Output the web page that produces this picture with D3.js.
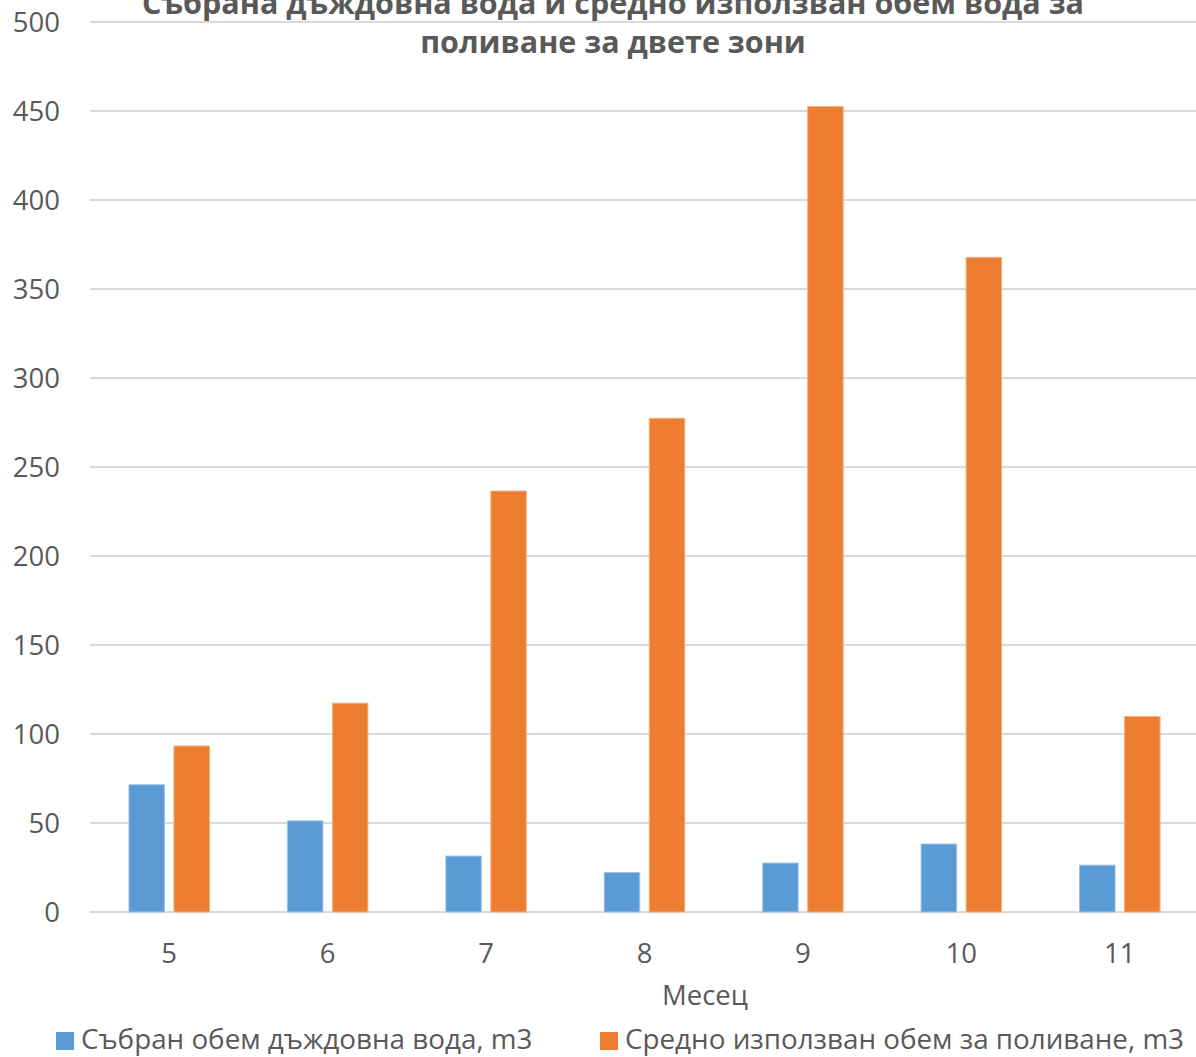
<!DOCTYPE html>
<html>
<head>
<meta charset="utf-8">
<script src="https://cdn.jsdelivr.net/npm/d3@7"></script>
<style>
  html, body { margin: 0; padding: 0; background: #fff; }
  svg { display: block; }
  text { font-family: "Open Sans", "Noto Sans", sans-serif; fill: #595959; }
</style>
</head>
<body>
<svg id="chart" width="1196" height="1057"></svg>
<script>
// Months (categories)
const months = ["5", "6", "7", "8", "9", "10", "11"];
// Collected rainwater, m3
const rainwater = [71.5, 51.2, 31.4, 22.2, 27.5, 38.2, 26.3];
// Average water used for irrigation, m3
const irrigation = [93.3, 117.3, 236.5, 277.4, 452.5, 367.8, 109.8];
// Value axis ticks
const yTicks = [0, 50, 100, 150, 200, 250, 300, 350, 400, 450, 500];

const seriesNames = ["Събран обем дъждовна вода, m3", "Средно използван обем за поливане, m3"];
const seriesColors = ["#5B9BD5", "#ED7D31"];
const seriesStroke = ["#9DC3E6", "#F4B183"];
const titleLines = ["Събрана дъждовна вода и средно използван обем вода за", "поливане за двете зони"];
const xTitle = "Месец";

const svg = d3.select("#chart");
const plot = { left: 90, right: 1199, top: 22, bottom: 912 };

const x = d3.scaleBand().domain(months).range([plot.left, plot.right]).paddingInner(0).paddingOuter(0);
const y = d3.scaleLinear().domain([0, 500]).range([plot.bottom, plot.top]);

const barW = 35.5, barGap = 9.5;
const inner = d3.scaleOrdinal().domain([0, 1]).range([-(barW + barGap / 2), barGap / 2]);

// Gridlines
svg.append("g")
  .selectAll("line")
  .data(yTicks)
  .join("line")
  .attr("x1", plot.left).attr("x2", plot.right)
  .attr("y1", d => y(d)).attr("y2", d => y(d))
  .attr("stroke", "#D9D9D9").attr("stroke-width", 2);

// Value axis labels
const yAxis = d3.axisLeft(y).tickValues(yTicks).tickSize(0).tickPadding(0);
const gy = svg.append("g").attr("transform", `translate(60,0)`).call(yAxis);
gy.select(".domain").remove();
gy.selectAll("text").attr("font-size", 27.5).attr("fill", "#595959")
  .style("font-family", "'Open Sans', sans-serif").attr("dy", "0.35em");

// Category axis labels
const xAxis = d3.axisBottom(x).tickSize(0).tickPadding(0);
const gx = svg.append("g").attr("transform", `translate(0,${plot.bottom + 41})`).call(xAxis);
gx.select(".domain").remove();
gx.selectAll("text").attr("font-size", 27.5).attr("fill", "#595959")
  .style("font-family", "'Open Sans', sans-serif").attr("dy", "0.35em");

// Bars
const seriesData = [rainwater, irrigation];
seriesData.forEach((vals, si) => {
  svg.append("g")
    .selectAll("rect")
    .data(vals.map((v, i) => ({ m: months[i], v })))
    .join("rect")
    .attr("x", d => x(d.m) + x.bandwidth() / 2 + inner(si))
    .attr("width", barW)
    .attr("y", d => y(d.v))
    .attr("height", d => y(0) - y(d.v))
    .attr("fill", seriesColors[si])
    .attr("stroke", seriesStroke[si])
    .attr("stroke-width", 1);
});

// Title
svg.append("g").selectAll("text")
  .data(titleLines)
  .join("text")
  .attr("x", 613)
  .attr("y", (d, i) => 3 + i * 39)
  .attr("dy", "0.35em")
  .attr("text-anchor", "middle")
  .attr("font-size", 30.5)
  .attr("font-weight", "bold")
  .text(d => d);

// Category axis title
svg.append("text")
  .attr("x", 705).attr("y", 995).attr("dy", "0.35em")
  .attr("text-anchor", "middle").attr("font-size", 27.5)
  .text(xTitle);

// Legend
const legendX = [56, 600];
const lg = svg.append("g").selectAll("g")
  .data(seriesNames)
  .join("g")
  .attr("transform", (d, i) => `translate(${legendX[i]},1039)`);
lg.append("rect").attr("x", 0).attr("y", -7).attr("width", 18).attr("height", 18)
  .attr("fill", (d, i) => seriesColors[i]);
lg.append("text").attr("x", 25).attr("dy", "0.35em").attr("font-size", 27.8).text(d => d);
</script>
</body>
</html>
